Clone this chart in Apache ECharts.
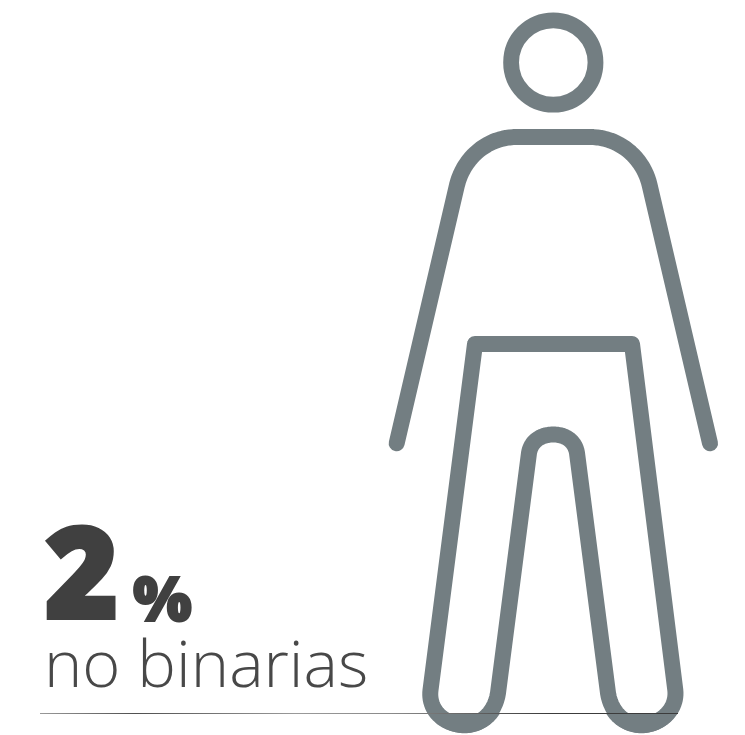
<!DOCTYPE html>
<html><head><meta charset="utf-8">
<style>html,body{margin:0;padding:0;background:#fff}#c{width:745px;height:735px}</style>
<script src="https://cdn.jsdelivr.net/npm/echarts@6/dist/echarts.min.js"></script>
</head><body><div id="c"></div>
<script>
const shareValue = '2';
const shareUnit = '%';
const shareLabel = 'no binarias';
// pictogram outline, in picture units: [x, y] vertices, ['C', x1,y1,x2,y2,x,y] curves
const headCircle = [553.3, 62.5, 42.2];
const armsBody = [[396.7,443.3],[457,185],['C',464,157,488,137,516.7,137],[590,137],['C',618.7,137,643,157,649.6,185],[710,443.3]];
const legs = [[475,344],[430.5,690],['C',428,710,444,725,464.5,725],['C',482,725,495,712,498,693],[529,453],
  ['C',531,441,541,434.5,553.3,434.5],['C',565.5,434.5,575,441,577,453],[608,693],['C',611,712,624,725,641.5,725],['C',660,725,677.5,710,675.3,690],[632,344],[475,344]];
const feet = [[464.5,691.5],[641.5,691.5]];
const baseline = [[40,713.5],[678,713.5]];

function sample(path){
  const out=[]; let p=null;
  path.forEach(s=>{
    if(s[0]==='C'){
      for(let i=1;i<=24;i++){const t=i/24,u=1-t;
        out.push([u*u*u*p[0]+3*u*u*t*s[1]+3*u*t*t*s[3]+t*t*t*s[5],
                  u*u*u*p[1]+3*u*u*t*s[2]+3*u*t*t*s[4]+t*t*t*s[6]]);}
      p=[s[5],s[6]];
    } else {out.push(s);p=s;}
  });
  return out;
}
const C='#737e82';
const chart=echarts.init(document.getElementById('c'),null,{renderer:'canvas'});
function stroke(api,pts){
  return {type:'polyline',shape:{points:sample(pts).map(q=>api.coord(q))},
    style:{fill:null,stroke:C,lineWidth:16,lineCap:'round',lineJoin:'round'}};
}
chart.setOption({
  backgroundColor:'#fff',animation:false,
  grid:{left:0,right:0,top:0,bottom:0},
  xAxis:{type:'value',min:0,max:745,show:false},
  yAxis:{type:'value',min:0,max:735,inverse:true,show:false},
  series:[{
    type:'custom',coordinateSystem:'cartesian2d',silent:true,clip:false,
    data:[[0,0]],
    renderItem(params,api){
      const children=[];
      const hc=api.coord([headCircle[0],headCircle[1]]);
      children.push({type:'circle',shape:{cx:hc[0],cy:hc[1],r:headCircle[2]},
        style:{fill:null,stroke:C,lineWidth:15.8}});
      children.push(stroke(api,armsBody));
      children.push(stroke(api,legs));
      feet.forEach(f=>{
        const c=api.coord(f), R=41.7, cut=api.coord([0,713])[1]-c[1];
        const a=Math.asin(cut/R), pts=[];
        for(let i=0;i<=40;i++){const t=a+(Math.PI-2*a)*i/40;pts.push([c[0]+R*Math.cos(t),c[1]+R*Math.sin(t)]);}
        children.push({type:'polygon',shape:{points:pts},style:{fill:C}});
      });
      const a=api.coord(baseline[0]), b=api.coord(baseline[1]);
      children.push({type:'line',shape:{x1:a[0],y1:a[1],x2:b[0],y2:b[1]},
        style:{lineWidth:1,stroke:new echarts.graphic.LinearGradient(0,0,1,0,[
          {offset:0,color:'#9a9a9a'},{offset:0.15,color:'#505050'},{offset:0.4,color:'#9a9a9a'},{offset:0.55,color:'#8a8a8a'},{offset:0.8,color:'#3c3c3c'},{offset:1,color:'#3c3c3c'}],false)}});
      return {type:'group',children};
    }
  }],
  graphic:[
    {type:'text',x:45,y:645,style:{text:shareValue,font:'800 125px "Open Sans"',fill:'#404040',stroke:'#404040',lineWidth:4,lineJoin:'miter',verticalAlign:'bottom'}},
    {type:'text',x:133,y:634,style:{text:shareUnit,font:'800 62px "Open Sans"',fill:'#404040',stroke:'#404040',lineWidth:2,verticalAlign:'bottom'}},
    {type:'text',x:44,y:701,style:{text:shareLabel,font:'300 65px "Open Sans"',fill:'#484848',verticalAlign:'bottom'}}
  ]
});
</script></body></html>
